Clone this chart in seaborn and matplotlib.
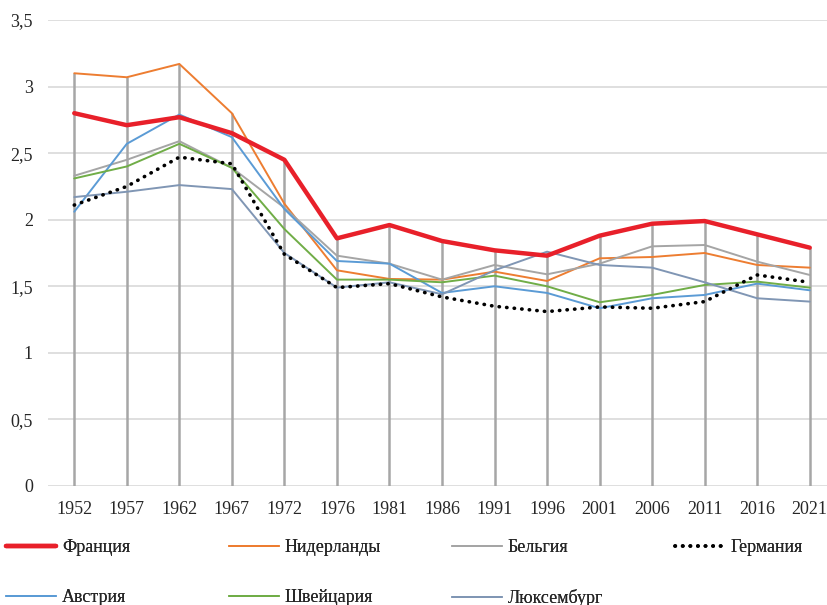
import numpy as np
import matplotlib
matplotlib.use("Agg")
import matplotlib.pyplot as plt
import seaborn as sns

# Election years (categories on the x axis)
years = ["1952", "1957", "1962", "1967", "1972", "1976", "1981", "1986",
         "1991", "1996", "2001", "2006", "2011", "2016", "2021"]

# Values
france = [2.80, 2.71, 2.77, 2.65, 2.45, 1.86, 1.96, 1.84, 1.77, 1.73, 1.88, 1.97, 1.99, 1.89, 1.79]
netherlands = [3.10, 3.07, 3.17, 2.80, 2.12, 1.62, 1.555, 1.55, 1.61, 1.54, 1.71, 1.72, 1.75, 1.66, 1.64]
belgium = [2.33, 2.45, 2.59, 2.39, 2.09, 1.73, 1.67, 1.55, 1.66, 1.59, 1.67, 1.80, 1.81, 1.685, 1.585]
germany = [2.11, 2.25, 2.47, 2.42, 1.74, 1.49, 1.52, 1.42, 1.35, 1.31, 1.345, 1.335, 1.385, 1.585, 1.53]
austria = [2.06, 2.57, 2.79, 2.62, 2.08, 1.69, 1.67, 1.45, 1.50, 1.45, 1.335, 1.41, 1.435, 1.52, 1.47]
switzerland = [2.31, 2.40, 2.57, 2.39, 1.93, 1.55, 1.55, 1.53, 1.58, 1.50, 1.38, 1.435, 1.51, 1.535, 1.49]
luxembourg = [2.17, 2.21, 2.26, 2.23, 1.75, 1.49, 1.53, 1.44, 1.62, 1.76, 1.66, 1.64, 1.53, 1.41, 1.385]

y_ticks = [0, 0.5, 1, 1.5, 2, 2.5, 3, 3.5]
y_tick_labels = ["0", "0,5", "1", "1,5", "2", "2,5", "3", "3,5"]

sns.set_style("white")
plt.rcParams["font.family"] = ["Liberation Serif", "DejaVu Serif"]

fig = plt.figure(figsize=(8.27, 6.05), dpi=100)
ax = fig.add_axes([48 / 827, 1 - 486 / 605, 788 / 827, 466 / 605])

x = np.arange(len(years))
series = [
    ("Франция", france, dict(color="#e8202a", lw=3.2, zorder=5)),
    ("Нидерланды", netherlands, dict(color="#ed7d31", lw=1.4, zorder=3)),
    ("Бельгия", belgium, dict(color="#a5a5a5", lw=1.4, zorder=3)),
    ("Германия", germany, dict(color="black", lw=2.6, zorder=4,
                               linestyle=(0, (0.1, 2.0)), dash_capstyle="round")),
    ("Австрия", austria, dict(color="#5b9bd5", lw=1.4, zorder=3)),
    ("Швейцария", switzerland, dict(color="#70ad47", lw=1.4, zorder=3)),
    ("Люксембург", luxembourg, dict(color="#8096b4", lw=1.4, zorder=3)),
]

handles = {}
for name, vals, style in series:
    sns.lineplot(x=x, y=vals, ax=ax, label=name, **style)
    handles[name] = ax.get_lines()[-1]
ax.get_legend().remove()

# drop lines from the highest point down to the axis
tops = np.max([vals for _, vals, _ in series], axis=0)
ax.vlines(x, 0, tops, color="#a6a6a6", lw=1.8, zorder=2)

ax.set_xlim(-0.5, len(years) - 0.5)
ax.set_ylim(0, 3.5)
ax.set_xticks(x)
ax.set_xticklabels(years, fontsize=13)
ax.set_yticks(y_ticks)
ax.set_yticklabels(y_tick_labels, fontsize=13)
ax.tick_params(axis="x", length=0, pad=10.5)
ax.tick_params(axis="y", length=0, pad=10.8)
ax.yaxis.grid(True, color="#d9d9d9", lw=1.2, zorder=0)
ax.xaxis.grid(False)
ax.set_axisbelow(True)
ax.set_xlabel("")
ax.set_ylabel("")
for s in ax.spines.values():
    s.set_visible(False)

# legend, one block per column
columns = [(["Франция", "Австрия"], 6),
           (["Нидерланды", "Швейцария"], 229),
           (["Бельгия", "Люксембург"], 452),
           (["Германия"], 675)]
for names, left in columns:
    leg = fig.legend([handles[n] for n in names], names,
                     loc="upper left", bbox_to_anchor=(left / 827, 1 - 539 / 605),
                     frameon=False, fontsize=13, handlelength=2.75,
                     handletextpad=0.35, labelspacing=1.85, borderpad=0,
                     borderaxespad=0)
    fig.add_artist(leg)

fig.savefig("out.png", dpi=100)
